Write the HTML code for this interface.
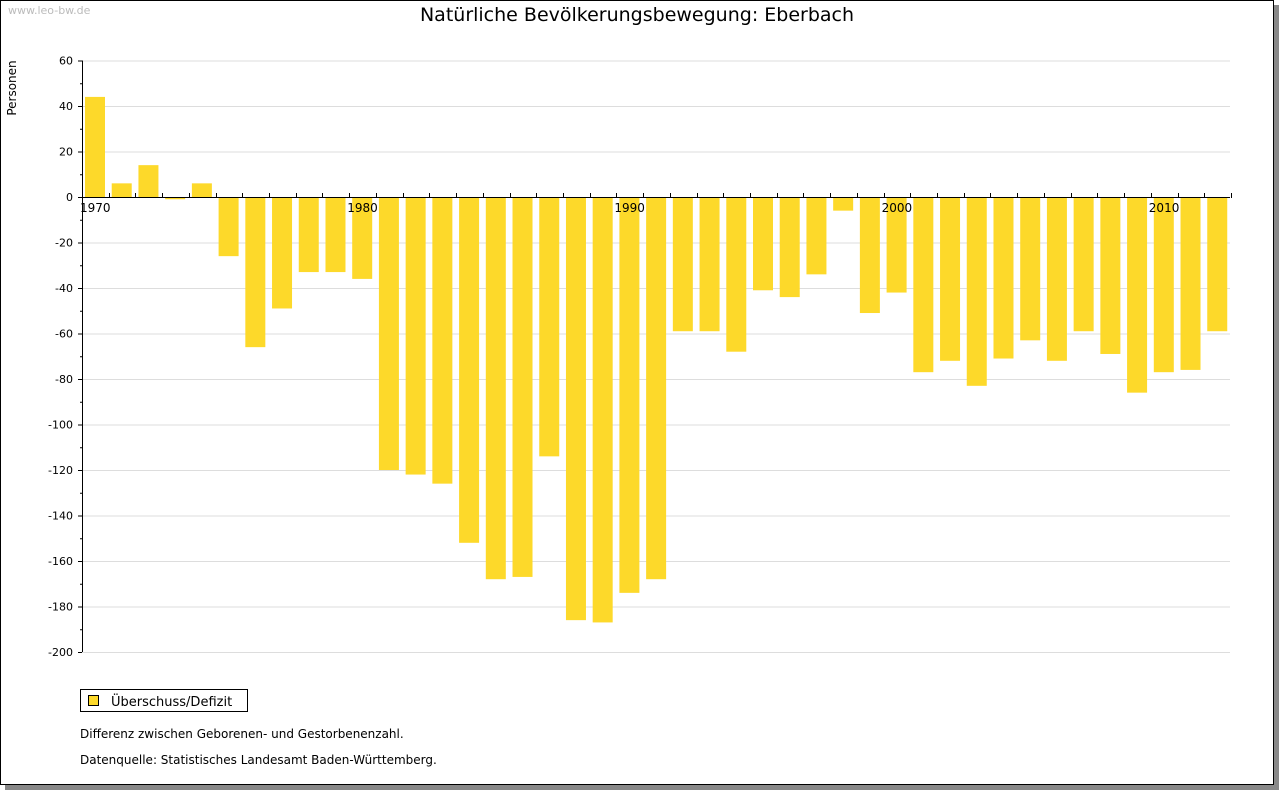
<!DOCTYPE html>
<html><head><meta charset="utf-8"><style>
body{margin:0;background:#fff;font-family:"DejaVu Sans","Liberation Sans",sans-serif;}
#frame{position:absolute;left:0;top:0;width:1272px;height:783px;border:1px solid #000;box-shadow:5px 5px 0 #888;background:#fff;}
</style></head><body>
<div id="frame"></div>
<svg id="chart" width="1280" height="791" style="position:absolute;left:0;top:0" font-family="DejaVu Sans, Liberation Sans, sans-serif">
<text x="8" y="14" font-size="11" fill="#bbb">www.leo-bw.de</text>
<text x="637" y="21" font-size="19" text-anchor="middle" fill="#000">Natürliche Bevölkerungsbewegung: Eberbach</text>
<text transform="translate(16,88) rotate(-90)" font-size="12" text-anchor="middle">Personen</text>
<g id="grid"></g><g id="bars"></g><g id="axes"></g>
<g>
<rect x="80.5" y="689.5" width="167" height="22" fill="#fff" stroke="#000"/>
<rect x="88.5" y="695.5" width="10" height="10" fill="#fdd92a" stroke="#000"/>
<text x="111" y="706" font-size="13">Überschuss/Defizit</text>
</g>
<text x="80" y="738" font-size="12">Differenz zwischen Geborenen- und Gestorbenenzahl.</text>
<text x="80" y="764" font-size="12">Datenquelle: Statistisches Landesamt Baden-Württemberg.</text>
</svg>
<script>
const years=[1970,1971,1972,1973,1974,1975,1976,1977,1978,1979,1980,1981,1982,1983,1984,1985,1986,1987,1988,1989,1990,1991,1992,1993,1994,1995,1996,1997,1998,1999,2000,2001,2002,2003,2004,2005,2006,2007,2008,2009,2010,2011,2012];
const values=[44,6,14,-1,6,-26,-66,-49,-33,-33,-36,-120,-122,-126,-152,-168,-167,-114,-186,-187,-174,-168,-59,-59,-68,-41,-44,-34,-6,-51,-42,-77,-72,-83,-71,-63,-72,-59,-69,-86,-77,-76,-59];
const yTicks=[60,40,20,0,-20,-40,-60,-80,-100,-120,-140,-160,-180,-200];
const xLabels=[1970,1980,1990,2000,2010];
const NS='http://www.w3.org/2000/svg';
const x0=82,step=26.72,left=82,right=1230;
const y=v=>197-v*2.275;
const xs=yr=>x0+(yr-years[0])*step;
function mk(t,a,p){const e=document.createElementNS(NS,t);for(const k in a)e.setAttribute(k,a[k]);p.appendChild(e);return e;}
const g=document.getElementById('grid'),b=document.getElementById('bars'),ax=document.getElementById('axes');
yTicks.forEach(v=>{
 const l=mk('line',{x1:left,x2:right,y1:y(v)+.5,y2:y(v)+.5,stroke:'#ddd'},g);
 
 
 const t=mk('text',{x:73,y:y(v)+4,'font-size':11,'text-anchor':'end'},ax);t.textContent=v;
 
 
 mk('line',{x1:78,x2:82,y1:y(v)+.5,y2:y(v)+.5,stroke:'#000'},ax);
});
for(let v=60;v>=-200;v-=10){mk('line',{x1:80,x2:82,y1:y(v)+.5,y2:y(v)+.5,stroke:'#000'},ax);}
mk('line',{x1:82.5,x2:82.5,y1:y(60),y2:y(-200),stroke:'#000'},ax);
years.forEach((yr,i)=>{
 const v=values[i];const top=Math.min(y(v),y(0)),h=Math.abs(y(v)-y(0));
 const r=mk('rect',{x:xs(yr)+3,y:top,width:20,height:Math.max(h,1),fill:'#fdd92a'},b);
 
 
});
mk('line',{x1:left,x2:right,y1:y(0)+.5,y2:y(0)+.5,stroke:'#000'},ax);
years.concat([2013]).forEach(yr=>{mk('line',{x1:Math.round(xs(yr))+.5,x2:Math.round(xs(yr))+.5,y1:y(0)-4,y2:y(0)+1,stroke:'#000'},ax);});
xLabels.forEach(yr=>{
 const t=mk('text',{x:xs(yr)-2,y:212,'font-size':12},ax);t.textContent=yr;
 
 
});
</script>
</body></html>
